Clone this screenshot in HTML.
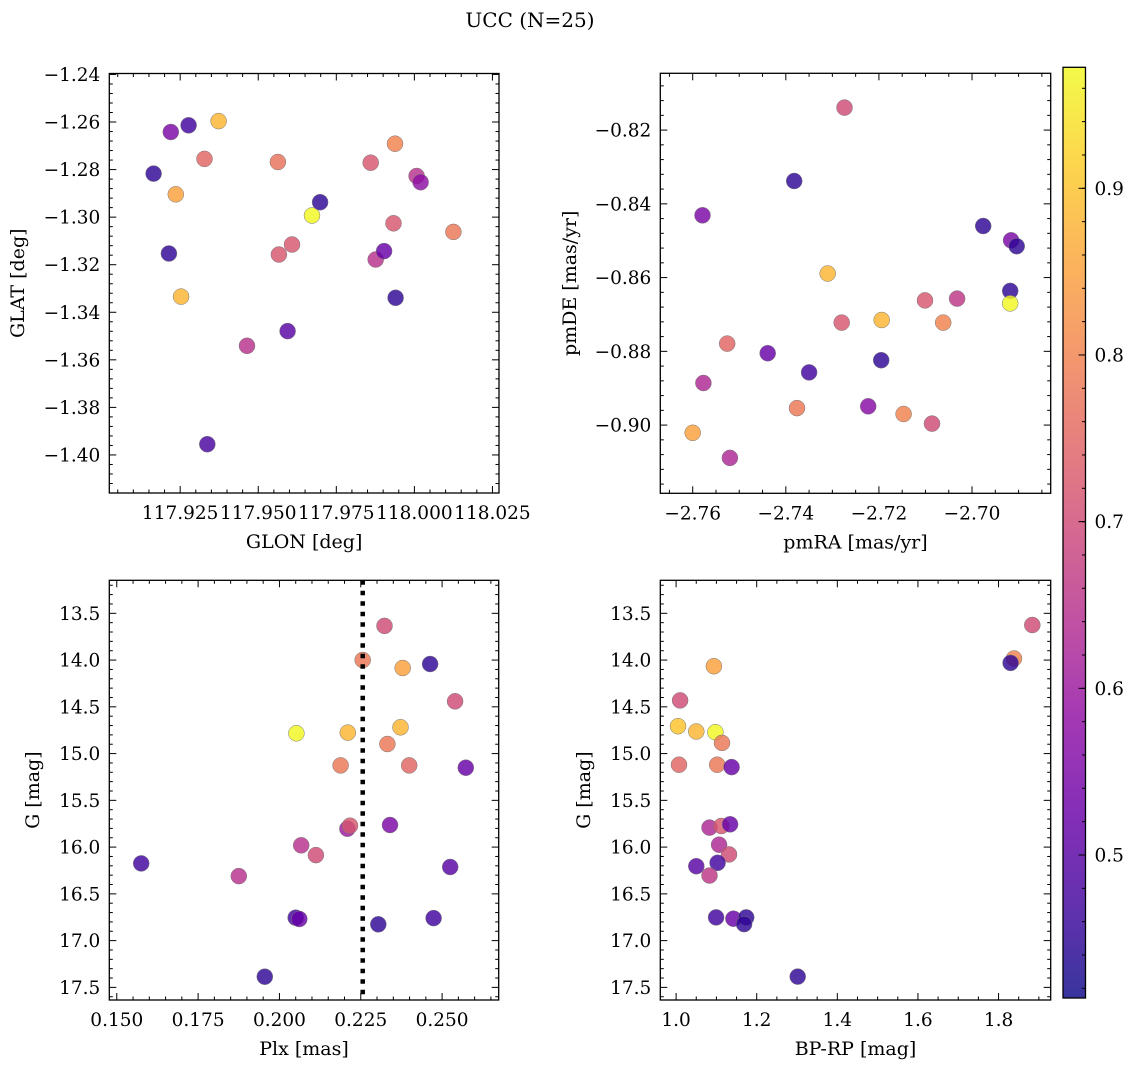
<!DOCTYPE html>
<html><head><meta charset="utf-8"><style>
html,body{margin:0;padding:0;background:#fff;}
svg{display:block;font-family:"DejaVu Serif","Liberation Serif",serif;}
</style></head><body>
<svg id="fig" width="1136" height="1067" viewBox="0 0 1136 1067" xmlns="http://www.w3.org/2000/svg">
<text x="530" y="27" font-size="20" text-anchor="middle">UCC (N=25)</text>
</svg>
<script>
// ---- Panel data ----
const glonVals = [117.9165,117.9220,117.9277,117.9373,117.9328,117.9236,117.9214,117.9253,117.9337,117.9464,117.9563,117.9566,117.9608,117.9594,117.9672,117.9698,117.9860,117.9938,117.9933,117.9876,117.9903,117.9940,118.0007,118.0020,118.0125];
const glatVals = [-1.2817,-1.2642,-1.2614,-1.2596,-1.2755,-1.2904,-1.3153,-1.3334,-1.3955,-1.3541,-1.2768,-1.3157,-1.3115,-1.3479,-1.2993,-1.2937,-1.2771,-1.2691,-1.3026,-1.3178,-1.3143,-1.3339,-1.2827,-1.2853,-1.3062];
const glColor = [0.45,0.55,0.47,0.88,0.75,0.85,0.45,0.88,0.48,0.65,0.77,0.72,0.72,0.50,0.97,0.45,0.72,0.80,0.72,0.65,0.52,0.45,0.65,0.58,0.78];

const pmraVals = [-2.7274,-2.7382,-2.7579,-2.6976,-2.6916,-2.6904,-2.7310,-2.6918,-2.6918,-2.7101,-2.7032,-2.7280,-2.7194,-2.7062,-2.7526,-2.7439,-2.7195,-2.7350,-2.7577,-2.7376,-2.7223,-2.7147,-2.7086,-2.7600,-2.7520];
const pmdeVals = [-0.8139,-0.8338,-0.8431,-0.8460,-0.8499,-0.8515,-0.8589,-0.8636,-0.8670,-0.8662,-0.8657,-0.8722,-0.8715,-0.8722,-0.8779,-0.8805,-0.8824,-0.8857,-0.8886,-0.8954,-0.8949,-0.8970,-0.8996,-0.9021,-0.9089];
const pmColor = [0.70,0.45,0.55,0.45,0.55,0.45,0.88,0.45,0.97,0.72,0.66,0.72,0.88,0.80,0.75,0.52,0.45,0.47,0.63,0.78,0.57,0.80,0.70,0.85,0.63];

const plxVals = [0.2323,0.2256,0.2379,0.2463,0.2540,0.2052,0.2210,0.2372,0.2332,0.2188,0.2399,0.2573,0.2209,0.2217,0.2340,0.2067,0.2112,0.1575,0.1875,0.2525,0.2050,0.2061,0.2304,0.2474,0.1955];
const gPlxVals = [13.635,13.999,14.085,14.042,14.441,14.783,14.776,14.719,14.898,15.126,15.126,15.151,15.803,15.771,15.764,15.981,16.085,16.174,16.310,16.213,16.755,16.769,16.826,16.759,17.386];
const plxColor = [0.70,0.78,0.85,0.45,0.70,0.97,0.88,0.88,0.78,0.78,0.75,0.52,0.60,0.72,0.55,0.65,0.70,0.47,0.65,0.50,0.47,0.52,0.45,0.47,0.45];
const plxLine = 0.2256;

const bprpVals = [1.8838,1.8383,1.8300,1.0938,1.0100,1.0046,1.0500,1.0975,1.1139,1.0073,1.1020,1.1376,1.0829,1.1121,1.1339,1.1066,1.1312,1.0500,1.1030,1.0829,1.0993,1.1421,1.1740,1.1686,1.3016];
const gCmdVals = [13.625,13.983,14.030,14.066,14.431,14.707,14.764,14.771,14.886,15.119,15.119,15.144,15.792,15.774,15.756,15.974,16.078,16.204,16.168,16.304,16.752,16.766,16.752,16.823,17.385];
const cmdColor = [0.70,0.80,0.45,0.85,0.70,0.90,0.88,0.97,0.78,0.75,0.78,0.52,0.63,0.72,0.52,0.63,0.70,0.50,0.47,0.66,0.47,0.52,0.45,0.45,0.45];

const cbarTicks = [0.5,0.6,0.7,0.8,0.9];
const cMin = 0.4142, cMax = 0.9726;

const NS = 'http://www.w3.org/2000/svg';
const svg = document.getElementById('fig');
const plasmaStops = ['#0d0887','#41049d','#6a00a8','#8f0da4','#b12a90','#cc4778','#e16462','#f2844b','#fca636','#fcce25','#f0f921'];
function hex(h){return [parseInt(h.substr(1,2),16),parseInt(h.substr(3,2),16),parseInt(h.substr(5,2),16)];}
function plasma(t){
  t=Math.max(0,Math.min(1,t));const s=t*10;const i=Math.min(9,Math.floor(s));const f=s-i;
  const a=hex(plasmaStops[i]),b=hex(plasmaStops[i+1]);
  return 'rgb('+a.map((v,k)=>Math.round(v+(b[k]-v)*f)).join(',')+')';
}
function cval(v){return plasma((v-cMin)/(cMax-cMin));}
function mk(tag,attrs,parent){const e=document.createElementNS(NS,tag);for(const k in attrs)e.setAttribute(k,attrs[k]);(parent||svg).appendChild(e);return e;}
function fmt(v,d){const s=Math.abs(v).toFixed(d);return (v<0?'\u2212':'')+s;}
const TFS=18.5, LFS=19;

function panel(o){
  const g=mk('g',{});
  
  
  const X=v=>o.L+(v-o.x0)/(o.x1-o.x0)*(o.R-o.L);
  const Y=v=>o.T+(v-o.y0)/(o.y1-o.y0)*(o.B-o.T);
  const pg=mk('g',{},g);
  
  
  o.xs.forEach((xv,i)=>{
    const c=mk('circle',{cx:X(xv).toFixed(1),cy:Y(o.ys[i]).toFixed(1),r:8,fill:cval(o.cs[i]),'fill-opacity':0.82,stroke:'#777','stroke-width':0.5},pg);
    
    
  });
  if(o.vline!==undefined){
    const l=mk('line',{x1:X(o.vline),x2:X(o.vline),y1:o.T,y2:o.B,stroke:'#000','stroke-width':4.5,'stroke-dasharray':'4.5 6'},g);
    
    
  }
  const tk=mk('g',{stroke:'#000','stroke-width':1},g);
  const eps=1e-9;
  for(let v=Math.ceil(o.x0/o.xmin-eps)*o.xmin; v<=o.x1+eps; v+=o.xmin){
    const x=X(v);if(x<o.L-0.5||x>o.R+0.5)continue;
    const maj=Math.abs(v/o.xmaj-Math.round(v/o.xmaj))<1e-4;const len=maj?7:3.5;
    mk('line',{x1:x,x2:x,y1:o.B,y2:o.B-len},tk);mk('line',{x1:x,x2:x,y1:o.T,y2:o.T+len},tk);
    if(maj){const t=mk('text',{x:x,y:o.B+26,'font-size':TFS,'text-anchor':'middle',stroke:'none',fill:'#000'},g);t.textContent=fmt(v,o.xd);
      }
  }
  const ylo=Math.min(o.y0,o.y1),yhi=Math.max(o.y0,o.y1);
  for(let v=Math.ceil(ylo/o.ymin-eps)*o.ymin; v<=yhi+eps; v+=o.ymin){
    const y=Y(v);if(y<o.T-0.5||y>o.B+0.5)continue;
    const maj=Math.abs(v/o.ymaj-Math.round(v/o.ymaj))<1e-4;const len=maj?7:3.5;
    mk('line',{x1:o.L,x2:o.L+len,y1:y,y2:y},tk);mk('line',{x1:o.R,x2:o.R-len,y1:y,y2:y},tk);
    if(maj){const t=mk('text',{x:o.L-9,y:y+6.5,'font-size':TFS,'text-anchor':'end',stroke:'none',fill:'#000'},g);t.textContent=fmt(v,o.yd);
      }
  }
  const fr=mk('rect',{x:o.L,y:o.T,width:o.R-o.L,height:o.B-o.T,fill:'none',stroke:'#000','stroke-width':1.3},g);
  
  
  const xl=mk('text',{x:(o.L+o.R)/2,y:o.B+55,'font-size':LFS,'text-anchor':'middle'},g);xl.textContent=o.xlab;
  
  
  const yx=o.ylx,yy=(o.T+o.B)/2;
  const yl=mk('text',{x:yx,y:yy,'font-size':LFS,'text-anchor':'middle',transform:`rotate(-90 ${yx} ${yy})`},g);yl.textContent=o.ylab;
  
  
}

panel({name:'glon-glat-panel',L:109.3,R:499,T:73.5,B:493,x0:117.9023,x1:118.0271,y0:-1.2396,y1:-1.416,xs:glonVals,ys:glatVals,cs:glColor,
  xmaj:0.025,xmin:0.005,ymaj:0.02,ymin:0.004,xd:3,yd:2,xlab:'GLON [deg]',ylab:'GLAT [deg]',ylx:24});
panel({name:'pm-panel',L:660.3,R:1050.7,T:73.3,B:493.3,x0:-2.76696,x1:-2.6831,y0:-0.8046,y1:-0.9185,xs:pmraVals,ys:pmdeVals,cs:pmColor,
  xmaj:0.02,xmin:0.005,ymaj:0.02,ymin:0.004,xd:2,yd:2,xlab:'pmRA [mas/yr]',ylab:'pmDE [mas/yr]',ylx:576});
panel({name:'plx-g-panel',L:109.3,R:498.7,T:580.3,B:1000,x0:0.1477,x1:0.2674,y0:13.147,y1:17.635,xs:plxVals,ys:gPlxVals,cs:plxColor,vline:plxLine,
  xmaj:0.025,xmin:0.005,ymaj:0.5,ymin:0.1,xd:3,yd:1,xlab:'Plx [mas]',ylab:'G [mag]',ylx:39});
panel({name:'cmd-panel',L:660.3,R:1050.7,T:580.3,B:1000,x0:0.9608,x1:1.9294,y0:13.147,y1:17.635,xs:bprpVals,ys:gCmdVals,cs:cmdColor,
  xmaj:0.2,xmin:0.05,ymaj:0.5,ymin:0.1,xd:1,yd:1,xlab:'BP-RP [mag]',ylab:'G [mag]',ylx:590});

(function(){
  const L=1063,R=1085.5,T=67.3,B=998;
  const defs=mk('defs',{});
  const lg=mk('linearGradient',{id:'cbg',x1:0,y1:1,x2:0,y2:0},defs);
  for(let i=0;i<=40;i++){const t=i/40;mk('stop',{offset:t,'stop-color':plasma(t)},lg);}
  const cb=mk('g',{});
  
  
  mk('rect',{x:L,y:T,width:R-L,height:B-T,fill:'url(#cbg)','fill-opacity':0.82},cb);
  const Y=v=>B-(v-cMin)/(cMax-cMin)*(B-T);
  for(let v=0.42;v<cMax;v+=0.02){const y=Y(v);mk('line',{x1:R,x2:R-3.5,y1:y,y2:y,stroke:'#000','stroke-width':1},cb);}
  cbarTicks.forEach(v=>{const y=Y(v);mk('line',{x1:R,x2:R-7,y1:y,y2:y,stroke:'#000','stroke-width':1},cb);
    const t=mk('text',{x:R+9,y:y+6.5,'font-size':TFS},cb);t.textContent=v.toFixed(1);
    });
  mk('rect',{x:L,y:T,width:R-L,height:B-T,fill:'none',stroke:'#000','stroke-width':1.3},cb);
})();
</script>
</body></html>
